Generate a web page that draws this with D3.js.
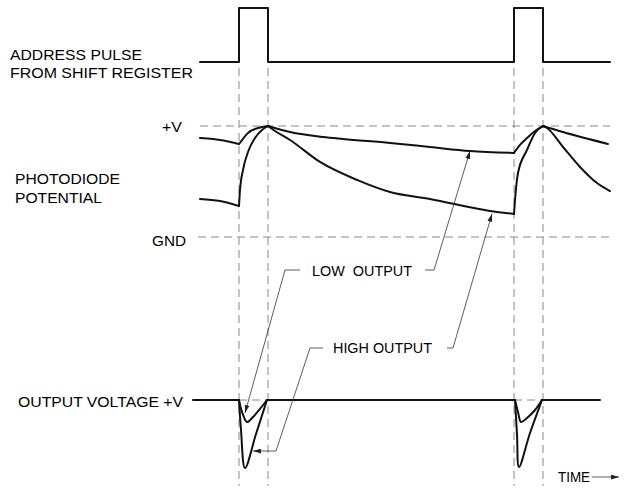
<!DOCTYPE html>
<html>
<head>
<meta charset="utf-8">
<script src="https://cdn.jsdelivr.net/npm/d3@7"></script>
<style>
  body { margin: 0; background: #fff; }
  svg { display: block; }
  text { font-family: "Liberation Sans", Arial, sans-serif; font-size: 15.5px; fill: #000; white-space: pre; }
  .wave { fill: none; stroke: #111; stroke-width: 2; stroke-linejoin: round; stroke-linecap: round; }
  .guide { fill: none; stroke: #888; stroke-width: 1; stroke-dasharray: 8,5; }
  .leader { fill: none; stroke: #333; stroke-width: 0.8; }
</style>
</head>
<body>
<div id="container"></div>
<script>
const width = 628;
const height = 494;

// ---- data (time in arbitrary units, levels in panel units) ----
const pulseEdges = [[49, 78], [324, 353]];
const timeSpan = [10, 420];

// photodiode potential, 0 = GND, 1 = +V ; each curve split in segments
const lowOutput = [
  [[10, .892], [23, .883], [45, .847], [49, .838]],
  [[49, .838], [53, .885], [58, .937], [68, .982], [78, 1]],
  [[78, 1], [100, .946], [133, .901], [153, .883], [200, .847], [240, .811], [280, .775], [324, .757]],
  [[324, .757], [330, .83], [337, .892], [345, .955], [353, 1]],
  [[353, 1], [373, .946], [418, .838]]
];
const highOutput = [
  [[10, .342], [30, .324], [49, .279]],
  [[49, .279], [50, .423], [53, .604], [58, .766], [65, .892], [72, .964], [78, 1]],
  [[78, 1], [85, .955], [100, .874], [130, .676], [167, .514], [200, .405], [240, .342], [300, .234], [324, .207]],
  [[324, .207], [325, .333], [328, .577], [337, .784], [345, .937], [353, 1]],
  [[353, 1], [357, .982], [373, .811], [390, .631], [407, .486], [420, .414]]
];

// output voltage, 0 = +V level, negative = dip
const outBase = [[[3, 0], [49, 0]], [[77, 0], [324, 0]], [[352, 0], [410, 0]]];
const outDips = [
  [[49, 0], [51, -.44], [55, -1], [66, -.5], [77, 0]],
  [[49, 0], [52, -.176], [57, -.324], [63, -.25], [70, -.13], [77, 0]],
  [[325, 0], [327, -.51], [329, -.985], [340, -.485], [352, 0]],
  [[325, 0], [328, -.176], [331, -.324], [337, -.265], [345, -.147], [352, 0]]
];

const labels = [
  {text: "ADDRESS PULSE", x: 10, y: 60, w: 132},
  {text: "FROM SHIFT REGISTER", x: 10, y: 78, w: 183},
  {text: "+V", x: 162, y: 132, w: 20},
  {text: "PHOTODIODE", x: 15, y: 184, w: 105},
  {text: "POTENTIAL", x: 15, y: 203, w: 87},
  {text: "GND", x: 152, y: 246, w: 34},
  {text: "OUTPUT VOLTAGE +V", x: 18, y: 407, w: 165},
  {text: "LOW  OUTPUT", x: 312, y: 276, w: 100},
  {text: "HIGH OUTPUT", x: 333, y: 353, w: 99},
  {text: "TIME", x: 558, y: 482, w: 32}
];

// ---- scales ----
const x = d3.scaleLinear().domain([0, 420]).range([190, 610]);
const yPulse = d3.scaleLinear().domain([0, 1]).range([62, 8]);
const yPd = d3.scaleLinear().domain([0, 1]).range([237, 126]);
const yOut = d3.scaleLinear().domain([0, -1]).range([400, 468]);

const svg = d3.select("#container").append("svg")
  .attr("width", width).attr("height", height);

const defs = svg.append("defs");
defs.append("marker")
  .attr("id", "arrow")
  .attr("viewBox", "0 0 10 6")
  .attr("refX", 10).attr("refY", 3)
  .attr("markerWidth", 8).attr("markerHeight", 5)
  .attr("markerUnits", "userSpaceOnUse")
  .attr("orient", "auto")
  .append("path").attr("d", "M0,0L10,3L0,6Z").attr("fill", "#222");

// ---- guides ----
const edgeTimes = pulseEdges.flat();
svg.selectAll(".vguide").data(edgeTimes).enter().append("line")
  .attr("class", "guide")
  .attr("x1", d => x(d)).attr("x2", d => x(d))
  .attr("y1", 68).attr("y2", 486);

svg.append("line").attr("class", "guide")
  .attr("x1", x(timeSpan[0])).attr("x2", x(timeSpan[1]))
  .attr("y1", yPd(1)).attr("y2", yPd(1));
svg.append("line").attr("class", "guide")
  .attr("x1", x(8)).attr("x2", x(timeSpan[1]))
  .attr("y1", yPd(0)).attr("y2", yPd(0));

// dashed +V level across the output dips
svg.selectAll(".oguide").data(pulseEdges).enter().append("line")
  .attr("class", "guide")
  .attr("x1", d => x(d[0])).attr("x2", d => x(d[1]))
  .attr("y1", yOut(0)).attr("y2", yOut(0));

// ---- address pulse ----
const pulsePts = [[timeSpan[0], 0]];
pulseEdges.forEach(e => {
  pulsePts.push([e[0], 0], [e[0], 1], [e[1], 1], [e[1], 0]);
});
pulsePts.push([timeSpan[1], 0]);

const linePulse = d3.line().x(d => x(d[0])).y(d => yPulse(d[1]));
svg.append("path").attr("class", "wave").attr("d", linePulse(pulsePts));

// ---- photodiode potential ----
const linePd = d3.line().x(d => x(d[0])).y(d => yPd(d[1])).curve(d3.curveMonotoneX);
svg.selectAll(".low").data(lowOutput).enter().append("path")
  .attr("class", "wave").attr("d", linePd);
svg.selectAll(".high").data(highOutput).enter().append("path")
  .attr("class", "wave").attr("d", linePd);

// ---- output voltage ----
const lineOut = d3.line().x(d => x(d[0])).y(d => yOut(d[1]));
svg.selectAll(".obase").data(outBase).enter().append("path")
  .attr("class", "wave").attr("d", lineOut);
svg.selectAll(".odip").data(outDips).enter().append("path")
  .attr("class", "wave").attr("d", lineOut.curve(d3.curveCatmullRom));

// ---- labels ----
svg.selectAll(".lbl").data(labels).enter().append("text")
  .attr("x", d => d.x).attr("y", d => d.y)
  .attr("xml:space", "preserve")
  .attr("textLength", d => d.w)
  .attr("lengthAdjust", "spacingAndGlyphs")
  .text(d => d.text);

// ---- leader lines with arrows ----
const leaders = [
  [[x(235), 270], [x(244), 270], [x(280), yPd(.775)]],
  [[x(110), 270], [x(95), 270], [x(55), yOut(-.19)]],
  [[x(257), 348], [x(263), 348], [x(302), yPd(.21)]],
  [[x(133), 348], [x(120), 348], [x(86), 451], [x(63), 451]],
  [[592, 477], [619, 477]]
];
svg.selectAll(".leader").data(leaders).enter().append("path")
  .attr("class", "leader")
  .attr("d", d3.line())
  .attr("marker-end", "url(#arrow)");
</script>
</body>
</html>
